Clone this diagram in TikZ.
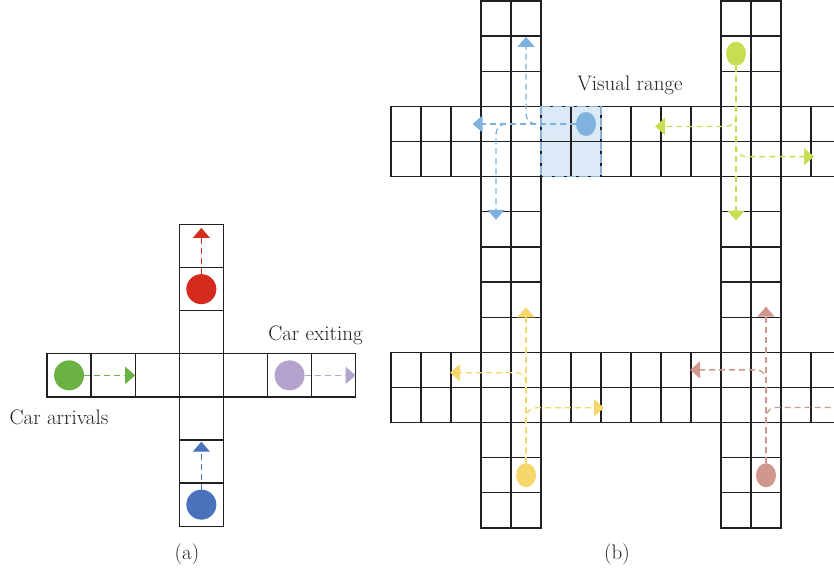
\documentclass[tikz,border=0pt]{standalone}
\usepackage{tikz}
\usetikzlibrary{arrows.meta, shapes.geometric}

\definecolor{gitter}{HTML}{231F20}
\definecolor{gruen}{HTML}{6BB244}
\definecolor{rot}{HTML}{D52B1E}
\definecolor{blau}{HTML}{4A72BA}
\definecolor{lila}{HTML}{B4A3CD}
\definecolor{hellblau}{HTML}{7FB2DF}
\definecolor{limette}{HTML}{C6DF52}
\definecolor{gelb}{HTML}{F6D76C}
\definecolor{rosa}{HTML}{D0978F}
\definecolor{sicht}{HTML}{DCE9F7}
\definecolor{sichtrand}{HTML}{8AB1D8}

\begin{document}
\begin{tikzpicture}[x=1pt, y=-1pt,
				zelle/.style={draw=gitter, line width=1.3pt},
				wagen/.style={circle, fill=#1, minimum size=30pt, inner sep=0pt, outer sep=0pt},
				wagenb/.style={ellipse, fill=#1, minimum width=20pt, minimum height=24pt, inner sep=0pt, outer sep=0pt},
				weg/.style={draw=#1, ->, line width=1.3pt, dash pattern=on 6pt off 4pt},
				>={Triangle[width=17pt,length=10pt]},   %Pfeilspitzen
				font=\fontsize{21}{25}\selectfont, text=gitter]
				\useasboundingbox (0,0) rectangle (834,572);
				\clip (0,0) rectangle (834,572);
				%Kreuzung (a)
				\begin{scope}[shift={(47,224.5)}, x=44.1pt, y=-43.1pt]
					\foreach \i in {0,...,6} \draw[zelle] (\i,3) rectangle ++(1,1);
					\foreach \j in {0,1,2,4,5,6} \draw[zelle] (3,\j) rectangle ++(1,1);
					% Fahrzeuge
					\node[wagen=gruen] (gr) at (0.5,3.5) {};
					\node[wagen=rot] (rt) at (3.5,1.5) {};
					\node[wagen=blau] (bl) at (3.5,6.5) {};
					\node[wagen=lila] (li) at (5.5,3.5) {};
					\coordinate (gr-ziel) at (2,3.5);
					\coordinate (rt-ziel) at (3.5,0.08);
					\coordinate (bl-ziel) at (3.5,5.04);
					\coordinate (li-ziel) at (7,3.5);
					\draw[weg=gruen] (gr) -- (gr-ziel);
					\draw[weg=rot] (rt) -- (rt-ziel);
					\draw[weg=blau] (bl) -- (bl-ziel);
					\draw[weg=lila] (li) -- (li-ziel);
				\end{scope}
				\node[anchor=base] (ankunft) at (59,424) {Car arrivals};
				\node[anchor=base] (ausfahrt) at (315.5,340) {Car exiting};
				\node[anchor=base] (teila) at (187,559) {(a)};
				%Strassennetz (b)
				\begin{scope}[shift={(391,1)}, x=30pt, y=-35.13pt]
					% Sichtbereich
					\fill[sicht] (5,3) rectangle (7,5);
					\foreach \i in {0,...,14} \foreach \j in {3,4,10,11} \draw[zelle] (\i,\j) rectangle ++(1,1);
					\foreach \i in {3,4,11,12} \foreach \j in {0,...,14} \draw[zelle] (\i,\j) rectangle ++(1,1);
					\draw[draw=sichtrand, line width=1.5pt, dash pattern=on 9pt off 3pt] (5,3) rectangle (7,5);
					% Fahrzeuge
					\node[wagenb=hellblau] (hb) at (6.5,3.5) {};
					\node[wagenb=limette] (lm) at (11.5,1.5) {};
					\node[wagenb=gelb] (ge) at (4.5,13.5) {};
					\node[wagenb=rosa] (ro) at (12.5,13.5) {};
					\coordinate (hb-links) at (2.72,3.5);
					\coordinate (hb-oben) at (4.5,1.02);
					\coordinate (hb-unten) at (3.5,6.23);
					\coordinate (lm-unten) at (11.5,6.25);
					\coordinate (lm-links) at (8.8,3.57);
					\coordinate (lm-rechts) at (14.1,4.43);
					\coordinate (ge-oben) at (4.5,8.72);
					\coordinate (ge-links) at (1.97,10.58);
					\coordinate (ge-rechts) at (7.1,11.58);
					\coordinate (ro-oben) at (12.5,8.7);
					\coordinate (ro-links) at (9.97,10.5);
					\coordinate (ro-rechts) at (15.3,11.57);
					% Wege
					\draw[weg=hellblau] (hb) -- (hb-links);
					\draw[weg=hellblau, rounded corners=10pt] (hb) -| (hb-oben);
					\draw[weg=hellblau, rounded corners=10pt] (hb) -| (hb-unten);
					\draw[weg=limette] (lm) -- (lm-unten);
					\draw[weg=limette, rounded corners=10pt] (lm) |- (lm-links);
					\draw[weg=limette, rounded corners=10pt] (lm) |- (lm-rechts);
					\draw[weg=gelb] (ge) -- (ge-oben);
					\draw[weg=gelb, rounded corners=10pt] (ge) |- (ge-links);
					\draw[weg=gelb, rounded corners=10pt] (ge) |- (ge-rechts);
					\draw[weg=rosa] (ro) -- (ro-oben);
					\draw[weg=rosa, rounded corners=10pt] (ro) |- (ro-links);
					\draw[weg=rosa, rounded corners=10pt] (ro) |- (ro-rechts);
				\end{scope}
				\node[anchor=base] (sichttext) at (630,90.7) {Visual range};
				\node[anchor=base] (teilb) at (617,559) {(b)};
			\end{tikzpicture}
\end{document}
